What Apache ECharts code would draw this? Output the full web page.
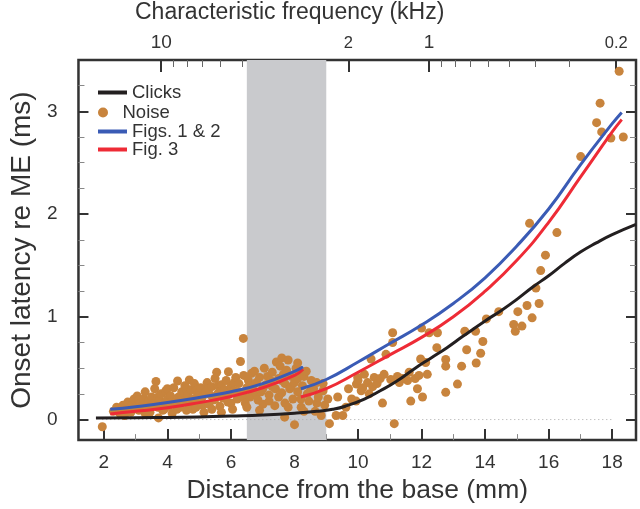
<!DOCTYPE html>
<html><head><meta charset="utf-8">
<script src="https://cdn.jsdelivr.net/npm/echarts@6/dist/echarts.min.js"></script>
<style>html,body{margin:0;padding:0;background:#fff}#c{width:640px;height:509px}</style>
</head><body><div id="c"></div>
<script>
// ---------- data ----------
const clicks = [[1.75,0.015],[3,0.018],[4.5,0.022],[6,0.035],[7,0.045],[8,0.062],[8.7,0.08],[9.2,0.1],[9.6,0.13],[10.2,0.2],[10.7,0.28],[11.2,0.37],[11.8,0.5],[12.3,0.6],[12.8,0.7],[13.3,0.81],[14,0.96],[14.5,1.06],[15,1.17],[15.5,1.29],[16,1.4],[16.5,1.52],[17,1.63],[17.5,1.72],[18,1.8],[18.75,1.9]];
const figs12A = [[2.2,0.1],[3,0.125],[4,0.165],[5,0.215],[6,0.27],[7,0.35],[8,0.47],[8.27,0.515]];
const figs12B = [[8.2,0.3],[9,0.39],[10,0.56],[11,0.74],[12,0.92],[13,1.13],[14,1.38],[15,1.69],[16,2.05],[17,2.48],[18,2.88],[18.3,2.99]];
const fig3A = [[2.2,0.055],[3,0.08],[4,0.115],[5,0.165],[6,0.225],[7,0.31],[8,0.43],[8.27,0.49]];
const fig3B = [[8.2,0.22],[9,0.3],[10,0.46],[11,0.63],[12,0.8],[13,1.0],[14,1.25],[15,1.55],[16,1.92],[17,2.36],[18,2.8],[18.3,2.92]];
const noise = [
[1.95,-0.07],[2.3,0.08],[2.4,0.12],[2.5,0.06],[2.55,0.1],[2.6,0.14],[2.65,0.04],[2.7,0.09],[2.75,0.17],[2.8,0.11],[2.85,0.07],[2.9,0.15],[2.95,0.2],[3.0,0.12],[3.05,0.23],[3.1,0.09],[3.1,0.19],[3.15,0.16],[3.2,0.13],[3.25,0.2],[3.3,0.27],[3.3,0.06],[3.35,0.11],[3.4,0.18],[3.45,0.07],[3.5,0.22],[3.5,0.14],[3.55,0.15],[3.6,0.3],[3.64,0.37],[3.7,0.12],[3.7,0.22],[3.72,0.016],[3.75,0.19],[3.8,0.25],[3.85,0.09],[3.9,0.16],[3.9,0.1],[3.95,0.28],[4.0,0.2],[4.0,0.3],[4.05,0.13],[4.1,0.23],[4.1,0.16],[4.15,0.06],[4.2,0.31],[4.25,0.17],[4.3,0.1],[4.32,0.375],[4.35,0.22],[4.4,0.12],[4.45,0.27],[4.45,0.2],[4.5,0.18],[4.55,0.33],[4.6,0.09],[4.6,0.3],[4.65,0.24],[4.69,0.385],[4.7,0.15],[4.75,0.29],[4.8,0.2],[4.8,0.1],[4.85,0.35],[4.9,0.12],[4.9,0.28],[4.95,0.25],[5.0,0.18],[5.0,0.24],[5.05,0.31],[5.1,0.22],[5.1,0.14],[5.15,0.07],[5.2,0.27],[5.25,0.36],[5.3,0.15],[5.3,0.3],[5.35,0.24],[5.4,0.32],[5.4,0.1],[5.45,0.19],[5.5,0.4],[5.5,0.2],[5.55,0.46],[5.6,0.26],[5.6,0.33],[5.65,0.13],[5.7,0.34],[5.7,0.07],[5.75,0.21],[5.8,0.29],[5.8,0.23],[5.85,0.38],[5.9,0.17],[5.92,0.465],[5.95,0.25],[6.0,0.32],[6.0,0.16],[6.05,0.1],[6.1,0.28],[6.1,0.36],[6.15,0.41],[6.2,0.2],[6.2,0.27],[6.25,0.35],[6.3,0.565],[6.35,0.26],[6.39,0.79],[6.4,0.43],[6.4,0.22],[6.45,0.16],[6.5,0.31],[6.5,0.12],[6.55,0.38],[6.6,0.22],[6.6,0.33],[6.65,0.45],[6.7,0.29],[6.74,0.47],[6.8,0.36],[6.8,0.25],[6.85,0.19],[6.9,0.41],[6.9,0.09],[6.95,0.27],[7.0,0.3],[7.01,0.15],[7.05,0.5],[7.1,0.34],[7.15,0.42],[7.2,0.24],[7.2,0.18],[7.25,0.38],[7.3,0.46],[7.3,0.32],[7.38,0.135],[7.4,0.3],[7.43,0.56],[7.5,0.4],[7.5,0.22],[7.55,0.52],[7.6,0.26],[7.6,0.38],[7.6,0.6],[7.65,0.44],[7.69,0.023],[7.7,0.35],[7.7,0.16],[7.75,0.48],[7.8,0.12],[7.8,0.58],[7.85,0.3],[7.9,0.42],[7.9,0.32],[7.95,0.2],[8.0,-0.05],[8.0,0.36],[8.05,0.5],[8.1,0.27],[8.1,0.4],[8.1,0.55],[8.15,0.45],[8.2,0.2],[8.21,0.12],[8.25,0.33],[8.3,0.42],[8.3,0.08],[8.37,0.47],[8.4,0.25],[8.45,0.18],[8.5,0.28],[8.53,0.38],[8.6,0.3],[8.65,0.08],[8.7,0.36],[8.7,0.16],[8.75,0.22],[8.84,0.04],[8.9,0.28],[8.9,0.35],[8.95,0.14],[9.05,0.2],[9.1,-0.04],
[9.36,0.22],[9.62,0.12],[9.31,0.04],[9.52,0.04],[9.7,0.3],[9.8,0.2],[9.94,0.18],[9.99,0.41],[9.95,0.345],[10.0,0.38],[10.1,0.28],[10.15,0.31],[10.2,0.44],[10.3,0.36],[10.35,0.25],[10.51,0.41],[10.41,0.59],[10.46,0.32],[10.6,0.35],[10.7,0.4],[10.77,0.16],[10.82,0.44],[10.88,0.635],[11.09,0.845],[11.09,0.75],[11.03,0.39],[11.14,-0.04],[11.24,0.42],[11.3,0.36],[11.4,0.4],[11.56,0.38],[11.66,0.18],[11.61,0.46],[11.8,0.4],[11.87,0.3],[11.97,0.59],[11.92,0.43],[12.03,0.22],[12.0,0.89],[12.13,0.555],[12.18,0.44],[12.24,0.845],[12.5,0.845],[12.48,0.7],[12.76,0.52],[12.76,0.585],[12.76,0.265],[13.13,0.345],[13.26,0.52],[13.36,0.86],[13.42,0.68],[13.7,0.86],[13.72,0.55],[13.86,0.645],[13.93,0.76],[14.04,0.98],[14.43,1.05],[14.9,0.925],[14.95,0.86],[15.16,0.91],[15.03,1.05],[15.32,1.11],[15.48,0.99],[15.7,1.13],[15.6,1.28],[15.75,1.45],[15.9,1.6],[15.4,1.91],[16.26,1.82],[17.01,2.56],[17.51,2.89],[17.62,3.08],[17.67,2.8],[17.96,2.74],[18.35,2.75],[18.22,3.39]
];
const xMajor = [2,4,6,8,10,12,14,16,18];
const xMinor = [3,5,7,9,11,13,15,17];
const yMajor = [0,1,2,3];
const yMinor = [0.25,0.5,0.75,1.25,1.5,1.75,2.25,2.5,2.75,3.25];
const freqMajor = [10,2,1,0.2];
const freqMajorLabels = ['10','2','1','0.2'];
const freqMinor = [9,8,7,6,5,4,3,0.9,0.8,0.7,0.6,0.5,0.4,0.3];
const band = [6.5,9.0];
const zeroLine = [[1.95,0],[18.05,0]];

// place–frequency map of the top axis (distance in mm from log10 frequency)
const PLACE_A = 12.235, PLACE_B = 8.43;
const freqToDist = f => PLACE_A - PLACE_B*Math.log10(f);
const freqMajorPos = freqMajor.map(freqToDist);
const freqMinorPos = freqMinor.map(freqToDist);

// ---------- chart ----------
const FONT = "'Liberation Sans', Arial, sans-serif";
const TXT = '#333';
const X_MIN = 1.2, X_MAX = 18.75, Y_MIN = -0.2, Y_MAX = 3.5;
const chart = echarts.init(document.getElementById('c'), null, {renderer:'canvas'});

function xAx(pos, ticks, len, width, color, label){
  return {type:'value', position:pos, min:X_MIN, max:X_MAX,
    axisLine:{show:false, onZero:false}, splitLine:{show:false},
    axisTick:{show:true, inside:true, length:len, customValues:ticks, lineStyle:{color:color, width:width}},
    axisLabel: label || {show:false}};
}
function yAx(pos, ticks, len, width, color, label){
  return {type:'value', position:pos, min:Y_MIN, max:Y_MAX,
    axisLine:{show:false, onZero:false}, splitLine:{show:false},
    axisTick:{show:true, inside:true, length:len, customValues:ticks, lineStyle:{color:color, width:width}},
    axisLabel: label || {show:false}};
}

const xBottom = xAx('bottom', xMajor, 11, 2, '#333', {show:true, customValues:xMajor, fontSize:19, color:TXT, fontFamily:FONT, margin:13});
xBottom.name = 'Distance from the base (mm)';
xBottom.nameLocation = 'middle';
xBottom.nameGap = 36;
xBottom.nameTextStyle = {fontSize:26.5, color:TXT, fontFamily:FONT};

const xTop = xAx('top', freqMajorPos, 12, 2, '#333', {show:true, customValues:freqMajorPos, margin:8, fontFamily:FONT, color:TXT,
  formatter: v => {
    let bi = 0, bd = 1e9;
    freqMajorPos.forEach((p,i)=>{ const d = Math.abs(p-v); if(d<bd){bd=d; bi=i;} });
    const big = (freqMajorLabels[bi]==='10' || freqMajorLabels[bi]==='1');
    return (big ? '{b|' : '{s|') + freqMajorLabels[bi] + '}';
  },
  rich:{b:{fontSize:19, color:TXT, fontFamily:FONT}, s:{fontSize:16.5, color:TXT, fontFamily:FONT}}
});

const yLeft = yAx('left', yMajor, 10, 2, '#333', {show:true, customValues:yMajor, fontSize:19, color:TXT, fontFamily:FONT, margin:21});
yLeft.name = 'Onset latency re ME (ms)';
yLeft.nameLocation = 'middle';
yLeft.nameGap = 40;
yLeft.nameTextStyle = {fontSize:28, color:TXT, fontFamily:FONT};

const LEG_TXT = {fontSize:18.5, color:TXT, fontFamily:FONT};
const option = {
  animation:false,
  backgroundColor:'#fff',
  textStyle:{fontFamily:FONT},
  title:{text:'Characteristic frequency (kHz)', left:135, top:1, padding:0,
    textStyle:{fontSize:23, fontWeight:'normal', color:TXT, fontFamily:FONT}},
  grid:{left:76, right:4, top:60, bottom:66, show:true, borderColor:'#333', borderWidth:2.5, backgroundColor:'transparent'},
  legend:[
    {data:['Clicks'], left:98, top:83, padding:0, selectedMode:false, icon:'rect', itemWidth:29, itemHeight:4, textStyle:LEG_TXT},
    {data:['Noise'], left:98, top:103, padding:0, selectedMode:false, icon:'circle', itemWidth:29, itemHeight:10, textStyle:LEG_TXT},
    {data:['Figs. 1 & 2'], left:98, top:122, padding:0, selectedMode:false, icon:'rect', itemWidth:29, itemHeight:4, textStyle:LEG_TXT},
    {data:['Fig. 3'], left:98, top:140, padding:0, selectedMode:false, icon:'rect', itemWidth:29, itemHeight:4, textStyle:LEG_TXT}
  ],
  xAxis:[
    xBottom,
    xAx('bottom', xMinor, 6, 1, '#888'),
    xTop,
    xAx('top', freqMinorPos, 7, 1, '#666')
  ],
  yAxis:[
    yLeft,
    yAx('left', yMinor, 6, 1, '#888'),
    yAx('right', yMajor, 10, 2, '#333'),
    yAx('right', yMinor, 6, 1, '#888')
  ],
  series:[
    {type:'line', name:'band', data:[], z:0, silent:true, symbol:'none',
      markArea:{silent:true, itemStyle:{color:'#c9cacd'}, data:[[{xAxis:band[0]},{xAxis:band[1]}]]}},
    {type:'line', name:'zero', data:zeroLine, z:1, silent:true, symbol:'none',
      lineStyle:{color:'#aaa', width:1, type:[1,3]}},
    {type:'scatter', name:'Noise', data:noise, symbol:'circle', symbolSize:9, z:2,
      itemStyle:{color:'#c8843d', opacity:1}},
    {type:'line', name:'Clicks', data:clicks, smooth:true, symbol:'none', z:3,
      lineStyle:{color:'#231f20', width:3}, itemStyle:{color:'#231f20'}},
    {type:'line', name:'Fig. 3', data:fig3A, smooth:true, symbol:'none', z:4,
      lineStyle:{color:'#ee2b36', width:3}, itemStyle:{color:'#ee2b36'}},
    {type:'line', name:'Fig. 3', data:fig3B, smooth:true, symbol:'none', z:4,
      lineStyle:{color:'#ee2b36', width:3}, itemStyle:{color:'#ee2b36'}},
    {type:'line', name:'Figs. 1 & 2', data:figs12A, smooth:true, symbol:'none', z:5,
      lineStyle:{color:'#3a5bb5', width:3}, itemStyle:{color:'#3a5bb5'}},
    {type:'line', name:'Figs. 1 & 2', data:figs12B, smooth:true, symbol:'none', z:5,
      lineStyle:{color:'#3a5bb5', width:3}, itemStyle:{color:'#3a5bb5'}}
  ]
};
chart.setOption(option);
</script>
</body></html>
